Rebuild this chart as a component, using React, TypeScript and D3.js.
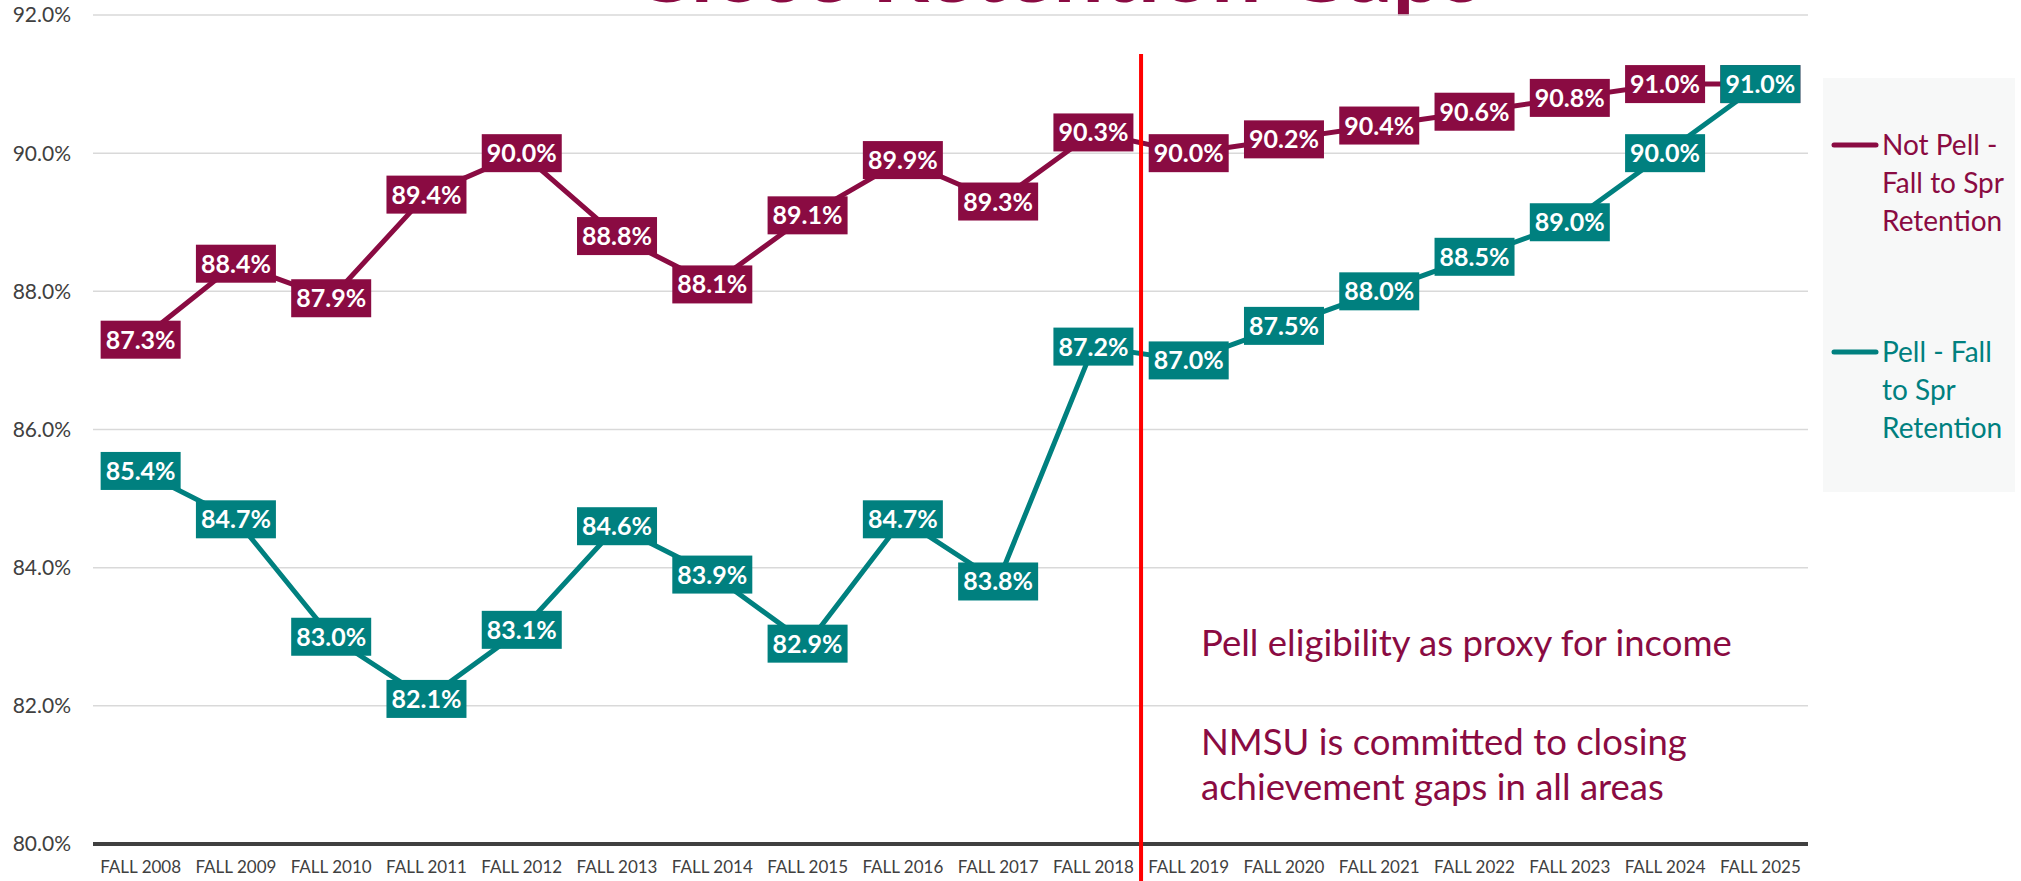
import React from 'react';
import * as d3 from 'd3';

const categories = ['FALL 2008','FALL 2009','FALL 2010','FALL 2011','FALL 2012','FALL 2013','FALL 2014','FALL 2015','FALL 2016','FALL 2017','FALL 2018','FALL 2019','FALL 2020','FALL 2021','FALL 2022','FALL 2023','FALL 2024','FALL 2025'];
const notPell = [87.3, 88.4, 87.9, 89.4, 90.0, 88.8, 88.1, 89.1, 89.9, 89.3, 90.3, 90.0, 90.2, 90.4, 90.6, 90.8, 91.0, 91.0];
const pell = [85.4, 84.7, 83.0, 82.1, 83.1, 84.6, 83.9, 82.9, 84.7, 83.8, 87.2, 87.0, 87.5, 88.0, 88.5, 89.0, 90.0, 91.0];
const yTicks = [80, 82, 84, 86, 88, 90, 92];
const seriesNames = [['Not Pell -', 'Fall to Spr', 'Retention'], ['Pell - Fall', 'to Spr', 'Retention']];
const annotation1 = ['Pell eligibility as proxy for income'];
const annotation2 = ['NMSU is committed to closing', 'achievement gaps in all areas'];
const titleText = 'Close Retention Gaps';
const dividerAfter = 'FALL 2018';

const MAROON = '#8A0B42';
const TEAL = '#00807F';
const FONT = 'Lato, "Open Sans", sans-serif';

export default function App() {
  const W = 2021, H = 881;
  const left = 93, right = 1808, top = 15, bottom = 844;
  const x = d3.scaleBand<string>().domain(categories).range([left, right]).padding(0);
  const y = d3.scaleLinear().domain([80, 92]).range([bottom, top]);
  const cx = (c: string) => (x(c) as number) + x.bandwidth() / 2;
  const line = d3.line<number>().x((_, i) => cx(categories[i])).y(v => y(v));
  const fmt = (v: number) => d3.format('.1f')(v) + '%';
  const redX = (x(dividerAfter) as number) + x.bandwidth();
  const series = [
    { vals: notPell, color: MAROON },
    { vals: pell, color: TEAL },
  ];
  const bw = 80, bh = 38;
  return (
    <svg width={W} height={H} style={{ position: 'absolute', left: 0, top: 0, background: '#fff' }} fontFamily={FONT}>
      <text x={1057} y={2} textAnchor="middle" fontSize={78} fontWeight={700} fill={MAROON} textLength={850} lengthAdjust="spacingAndGlyphs">{titleText}</text>
      {yTicks.filter(t => t !== 80).map(t => (
        <line key={t} x1={left} x2={right} y1={y(t)} y2={y(t)} stroke="#D9D9D9" strokeWidth={1.5} />
      ))}
      <line x1={left} x2={right} y1={y(80)} y2={y(80)} stroke="#404040" strokeWidth={4} />
      {yTicks.map(t => (
        <text key={t} x={71} y={y(t)} dy="0.35em" textAnchor="end" fontSize={21} fill="#404040">{fmt(t)}</text>
      ))}
      {categories.map(c => (
        <text key={c} x={cx(c)} y={873} textAnchor="middle" fontSize={17} fill="#404040">{c}</text>
      ))}
      {series.map((s, k) => (
        <path key={k} d={line(s.vals) || ''} fill="none" stroke={s.color} strokeWidth={5} strokeLinejoin="round" />
      ))}
      <line x1={redX} x2={redX} y1={54} y2={H} stroke="#FF0000" strokeWidth={4} />
      {series.map((s, k) => (
        <g key={k}>
          {s.vals.map((v, i) => (
            <g key={i} transform={`translate(${cx(categories[i])},${y(v)})`}>
              <rect x={-bw / 2} y={-bh / 2} width={bw} height={bh} fill={s.color} />
              <text textAnchor="middle" dy="0.36em" fontSize={25} fontWeight={700} fill="#fff">{fmt(v)}</text>
            </g>
          ))}
        </g>
      ))}
      <rect x={1823} y={78} width={192} height={414} fill="#F7F8F8" />
      {seriesNames.map((lines, k) => {
        const ly = k === 0 ? 145 : 352;
        const color = series[k].color;
        return (
          <g key={k}>
            <line x1={1834} x2={1876} y1={ly} y2={ly} stroke={color} strokeWidth={5} strokeLinecap="round" />
            {lines.map((t, j) => (
              <text key={j} x={1882} y={ly + 10 + j * 38} fontSize={28} fill={color}>{t}</text>
            ))}
          </g>
        );
      })}
      {annotation1.map((t, j) => (
        <text key={j} x={1201} y={656} fontSize={36.5} fill={MAROON}>{t}</text>
      ))}
      {annotation2.map((t, j) => (
        <text key={j} x={1201} y={755 + j * 45} fontSize={36.5} fill={MAROON}>{t}</text>
      ))}
    </svg>
  );
}
